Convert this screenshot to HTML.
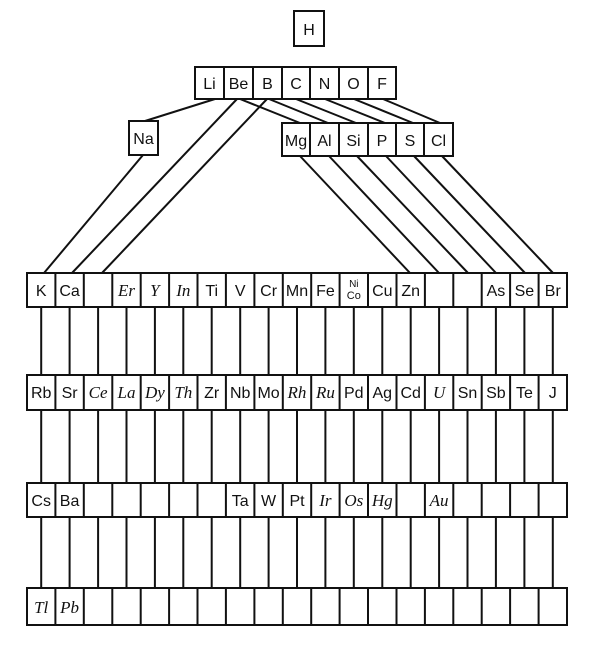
<!DOCTYPE html>
<html><head><meta charset="utf-8"><style>
html,body{margin:0;padding:0;background:#fff;}
svg{display:block;}
text{font-family:"Liberation Sans",sans-serif;font-size:16px;fill:#111;text-anchor:middle;}
.i{font-family:"Liberation Serif",serif;font-style:italic;font-size:17px;}
</style></head><body>
<svg width="600" height="665" viewBox="0 0 600 665" xmlns="http://www.w3.org/2000/svg">
<g fill="none" stroke="#111" stroke-width="2">
<!-- H -->
<rect x="294" y="11" width="30" height="35"/>
<!-- top row -->
<rect x="195" y="67" width="201" height="32"/>
<path d="M224 67V99M253 67V99M282 67V99M310 67V99M339 67V99M368 67V99"/>
<!-- Na -->
<rect x="129" y="121" width="29" height="34"/>
<!-- second row -->
<rect x="282" y="123" width="171" height="33"/>
<path d="M310 123V156M339 123V156M368 123V156M396 123V156M424 123V156"/>
<!-- connectors top -->
<path d="M215 99L145 121"/>
<path d="M240 99L300 123M269 99L328 123M296 99L356 123M325 99L385 123M354 99L413 123M383 99L440 123"/>
<path d="M143 155L44 273M237 99L72 273M267 99L102 273"/>
<path d="M300 156L410 273M329 156L439 273M357 156L468 273M386 156L496 273M414 156L525 273M442 156L553 273"/>
<!-- rows -->
<rect x="27" y="273" width="540" height="34"/>
<rect x="27" y="375" width="540" height="35"/>
<rect x="27" y="483" width="540" height="34"/>
<rect x="27" y="588" width="540" height="37"/>
<path d="M55.4 273V307M83.8 273V307M112.3 273V307M140.7 273V307M169.1 273V307M197.5 273V307M225.9 273V307M254.4 273V307M282.8 273V307M311.2 273V307M339.6 273V307M368 273V307M396.5 273V307M424.9 273V307M453.3 273V307M481.7 273V307M510.1 273V307M538.6 273V307"/>
<path d="M55.4 375V410M83.8 375V410M112.3 375V410M140.7 375V410M169.1 375V410M197.5 375V410M225.9 375V410M254.4 375V410M282.8 375V410M311.2 375V410M339.6 375V410M368 375V410M396.5 375V410M424.9 375V410M453.3 375V410M481.7 375V410M510.1 375V410M538.6 375V410"/>
<path d="M55.4 483V517M83.8 483V517M112.3 483V517M140.7 483V517M169.1 483V517M197.5 483V517M225.9 483V517M254.4 483V517M282.8 483V517M311.2 483V517M339.6 483V517M368 483V517M396.5 483V517M424.9 483V517M453.3 483V517M481.7 483V517M510.1 483V517M538.6 483V517"/>
<path d="M55.4 588V625M83.8 588V625M112.3 588V625M140.7 588V625M169.1 588V625M197.5 588V625M225.9 588V625M254.4 588V625M282.8 588V625M311.2 588V625M339.6 588V625M368 588V625M396.5 588V625M424.9 588V625M453.3 588V625M481.7 588V625M510.1 588V625M538.6 588V625"/>
<!-- verticals -->
<path d="M41.2 307V375M69.6 307V375M98.1 307V375M126.5 307V375M154.9 307V375M183.3 307V375M211.7 307V375M240.2 307V375M268.6 307V375M297 307V375M325.4 307V375M353.8 307V375M382.3 307V375M410.7 307V375M439.1 307V375M467.5 307V375M495.9 307V375M524.4 307V375M552.8 307V375"/>
<path d="M41.2 410V483M69.6 410V483M98.1 410V483M126.5 410V483M154.9 410V483M183.3 410V483M211.7 410V483M240.2 410V483M268.6 410V483M297 410V483M325.4 410V483M353.8 410V483M382.3 410V483M410.7 410V483M439.1 410V483M467.5 410V483M495.9 410V483M524.4 410V483M552.8 410V483"/>
<path d="M41.2 517V588M69.6 517V588M98.1 517V588M126.5 517V588M154.9 517V588M183.3 517V588M211.7 517V588M240.2 517V588M268.6 517V588M297 517V588M325.4 517V588M353.8 517V588M382.3 517V588M410.7 517V588M439.1 517V588M467.5 517V588M495.9 517V588M524.4 517V588M552.8 517V588"/>
</g>
<text x="309" y="35">H</text>
<text x="209.5" y="89">Li</text><text x="238.5" y="89">Be</text><text x="267.5" y="89">B</text><text x="296" y="89">C</text><text x="324.5" y="89">N</text><text x="353.5" y="89">O</text><text x="382" y="89">F</text>
<text x="143.5" y="144">Na</text>
<text x="296" y="146">Mg</text><text x="324.5" y="146">Al</text><text x="353.5" y="146">Si</text><text x="382" y="146">P</text><text x="410" y="146">S</text><text x="438.5" y="146">Cl</text>
<!-- row 1 -->
<g transform="translate(0,296)">
<text x="41.2">K</text><text x="69.6">Ca</text><text class="i" x="126.5">Er</text><text class="i" x="154.9">Y</text><text class="i" x="183.3">In</text><text x="211.7">Ti</text><text x="240.2">V</text><text x="268.6">Cr</text><text x="297">Mn</text><text x="325.4">Fe</text>
<text x="353.8" y="-9" style="font-size:10px">Ni</text><text x="353.8" y="3" style="font-size:11px">Co</text>
<text x="382.3">Cu</text><text x="410.7">Zn</text><text x="495.9">As</text><text x="524.4">Se</text><text x="552.8">Br</text>
</g>
<g transform="translate(0,398)">
<text x="41.2">Rb</text><text x="69.6">Sr</text><text class="i" x="98.1">Ce</text><text class="i" x="126.5">La</text><text class="i" x="154.9">Dy</text><text class="i" x="183.3">Th</text><text x="211.7">Zr</text><text x="240.2">Nb</text><text x="268.6">Mo</text><text class="i" x="297">Rh</text><text class="i" x="325.4">Ru</text><text x="353.8">Pd</text><text x="382.3">Ag</text><text x="410.7">Cd</text><text class="i" x="439.1">U</text><text x="467.5">Sn</text><text x="495.9">Sb</text><text x="524.4">Te</text><text x="552.8">J</text>
</g>
<g transform="translate(0,506)">
<text x="41.2">Cs</text><text x="69.6">Ba</text><text x="240.2">Ta</text><text x="268.6">W</text><text x="297">Pt</text><text class="i" x="325.4">Ir</text><text class="i" x="353.8">Os</text><text class="i" x="382.3">Hg</text><text class="i" x="439.1">Au</text>
</g>
<g transform="translate(0,613)">
<text class="i" x="41.2">Tl</text><text class="i" x="69.6">Pb</text>
</g>
</svg>
</body></html>
